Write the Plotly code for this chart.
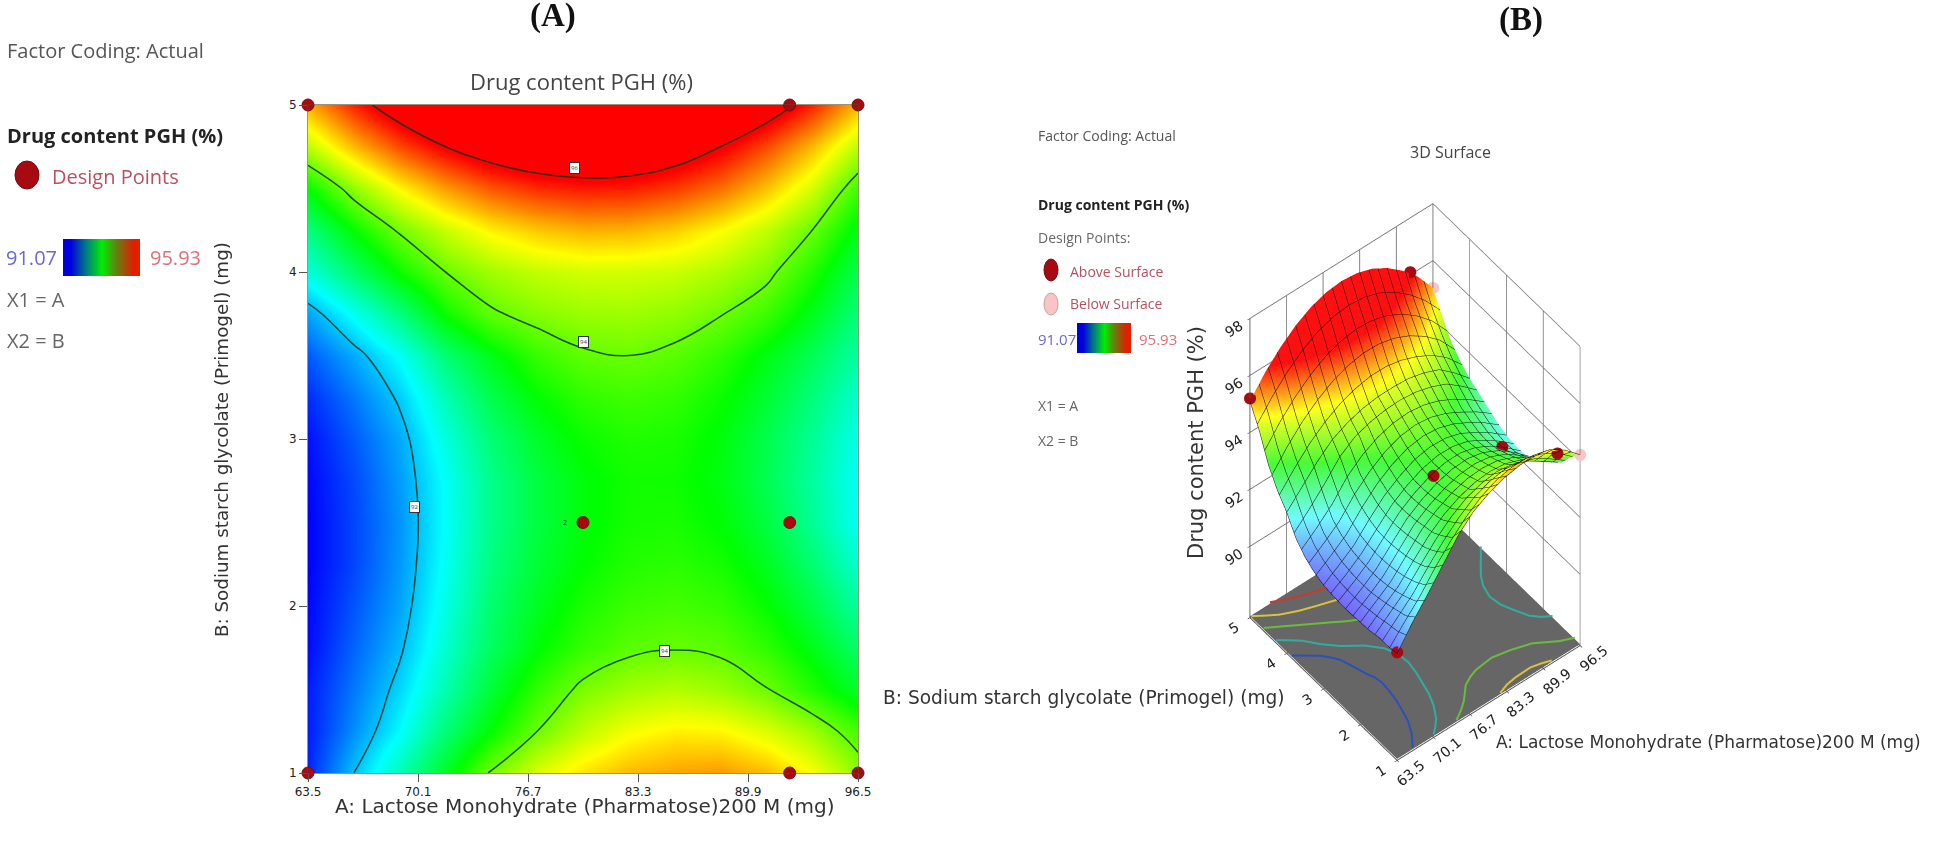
import plotly.graph_objects as go

W, H = 1958, 854
lactose = [63.5, 66.25, 69.0, 71.75, 74.5, 77.25, 80.0, 82.75, 85.5, 88.25, 91.0, 93.75, 96.5]
primogel = [1, 1.25, 1.5, 1.75, 2, 2.25, 2.5, 2.75, 3, 3.25, 3.5, 3.75, 4, 4.25, 4.5, 4.75, 5]
drug = [
 [91.25,92.0,92.65,93.35,94.05,94.55,94.85,95.05,95.15,95.2,95.05,94.7,94.2],
 [91.2,91.75,92.28,92.95,93.5,94.0,94.4,94.66,94.78,94.75,94.55,94.25,93.8],
 [91.2,91.65,92.1,92.68,93.25,93.72,94.08,94.27,94.35,94.25,94.02,93.65,93.3],
 [91.12,91.55,91.95,92.52,93.05,93.47,93.75,93.92,93.98,93.92,93.72,93.4,93.0],
 [91.1,91.47,91.85,92.42,92.98,93.35,93.62,93.78,93.82,93.75,93.52,93.17,92.75],
 [91.07,91.4,91.8,92.35,92.9,93.25,93.5,93.66,93.7,93.6,93.35,92.97,92.5],
 [91.07,91.4,91.78,92.32,92.85,93.2,93.45,93.6,93.62,93.48,93.2,92.8,92.33],
 [91.1,91.42,91.82,92.33,92.85,93.2,93.45,93.58,93.57,93.42,93.12,92.75,92.32],
 [91.15,91.5,91.88,92.45,92.95,93.3,93.55,93.65,93.62,93.45,93.15,92.8,92.38],
 [91.28,91.65,92.05,92.65,93.15,93.5,93.72,93.8,93.74,93.55,93.27,92.93,92.52],
 [91.5,91.88,92.32,92.95,93.4,93.75,93.95,94.0,93.92,93.72,93.42,93.1,92.72],
 [91.85,92.35,92.9,93.55,93.95,94.13,94.23,94.25,94.18,94.02,93.78,93.38,92.92],
 [92.45,93.0,93.55,94.0,94.26,94.42,94.5,94.5,94.46,94.32,94.1,93.65,93.12],
 [92.9,93.52,94.05,94.46,94.78,94.98,95.09,95.08,94.95,94.72,94.42,94.0,93.4],
 [93.5,94.18,94.74,95.18,95.51,95.72,95.81,95.79,95.65,95.39,95.0,94.5,93.78],
 [94.4,95.04,95.58,96.0,96.31,96.49,96.55,96.49,96.31,96.0,95.58,95.04,94.38],
 [95.1,95.78,96.32,96.75,97.06,97.24,97.3,97.24,97.06,96.75,96.32,95.78,95.05],
]
x_ticks = [63.5, 70.1, 76.7, 83.3, 89.9, 96.5]
y_ticks = [1, 2, 3, 4, 5]
z_ticks = [90, 92, 94, 96, 98]
design_a = [63.5, 92.4, 96.5, 63.5, 92.4, 96.5, 80.0, 92.4]
design_b = [5, 5, 5, 1, 1, 1, 2.5, 2.5]
above_a = [63.5, 63.5, 92.4, 92.4, 92.4, 80.0]
above_b = [1, 5, 5, 1, 2.5, 2.5]
above_z = [91.3, 95.2, 96.1, 94.75, 93.1, 93.6]
below_a = [96.5, 96.5]
below_b = [5, 1]
below_z = [95.05, 94.2]
floor_corner_a = [63.5, 96.5, 96.5, 63.5]
floor_corner_b = [1, 1, 5, 5]
floor_lines = {
 "#2b50b8": [[(63.5,3.86),(65,3.71),(66.6,3.55),(67.6,3.4),(68.3,3.27),(69,3.0),(69.6,2.75),(70.1,2.6),(70.3,2.45),(70.2,2.25),(69.9,2.0),(69.4,1.75),(68.8,1.5),(67.8,1.25),(66.3,1.0)]],
 "#2fae9f": [[(63.5,4.29),(64.9,4.15),(66.3,4.0),(67.9,3.75),(69.9,3.5),(72.6,3.25),(74.4,3.0),(75.3,2.75),(75.5,2.5),(75.2,2.25),(74.7,2.0),(74.2,1.75),(73.4,1.5),(72.2,1.25),(71.2,1.12),(70.1,1.0)],
             [(96.5,3.7),(95.4,3.53),(94.5,3.4),(93.2,3.2),(92.3,3.0),(91.8,2.75),(92.1,2.5),(93.0,2.25),(94.0,2.0),(95.2,1.85),(96.5,1.75)]],
 "#6dbb3c": [[(63.5,4.63),(66.2,4.42),(68.9,4.21),(71.6,4.0),(73.2,3.87),(75,3.75),(77.5,3.6),(80,3.52),(82,3.5),(84.5,3.55),(86.8,3.65),(88.6,3.75),(90.4,3.87),(91.9,4.0),(94.2,4.3),(96.5,4.61)],
             [(74.2,1.0),(75.8,1.12),(77.2,1.25),(79.2,1.5),(80.6,1.59),(82.0,1.65),(85.1,1.69),(88.0,1.62),(91.2,1.5),(94.4,1.25),(96.5,1.14)]],
 "#d8c23c": [[(63.5,4.96),(65,4.83),(66.7,4.69),(69.2,4.55),(71.8,4.44),(75.9,4.28),(78.8,4.23),(81.6,4.21),(85,4.26),(88.3,4.36),(90.8,4.5),(93.2,4.7),(96.5,4.98)],
             [(82.1,1.0),(83.8,1.07),(85.5,1.1),(88.3,1.11),(90,1.06),(91.4,1.0)]],
 "#c83a2e": [[(67.1,5.0),(69.5,4.86),(71.8,4.75),(75.9,4.62),(80.0,4.57),(84.1,4.62),(88.3,4.74),(90.4,4.86),(92.2,5.0)]],
}
colors_flat = [[0,"#0000ff"],[0.25,"#00ffff"],[0.5,"#00ff00"],[0.75,"#ffff00"],[1,"#ff0000"]]
colors_3d = [[0,"#7468ff"],[0.25,"#70fbff"],[0.5,"#48fa38"],[0.75,"#ffff20"],[1,"#ff1010"]]
bar_vals = [[0, 0.25, 0.5, 0.75, 1]]
bar_scale = [[0,"#0000e0"],[0.25,"#007f80"],[0.5,"#00ee00"],[0.75,"#6a7a10"],[1,"#e02000"]]

def X(p): return p / W
def Y(p): return 1 - p / H

fig = go.Figure()
fig.add_trace(go.Heatmap(x=lactose, y=primogel, z=drug, zmin=91.07, zmax=95.93, colorscale=colors_flat,
                         zsmooth="best", showscale=False, xaxis="x", yaxis="y"))
fig.add_trace(go.Contour(x=lactose, y=primogel, z=drug, showscale=False, xaxis="x", yaxis="y",
                         contours=dict(coloring="none", start=92, end=96, size=2),
                         line=dict(color="rgba(15,55,25,0.85)", width=1.6, smoothing=1.3)))
fig.add_trace(go.Scatter(x=design_a, y=design_b, mode="markers", xaxis="x", yaxis="y", cliponaxis=False,
                         marker=dict(size=12, color="#a80a12", line=dict(color="#6e1010", width=1))))
# colour keys
fig.add_trace(go.Heatmap(z=bar_vals, colorscale=bar_scale, zsmooth="best", showscale=False, xaxis="x2", yaxis="y2"))
fig.add_trace(go.Heatmap(z=bar_vals, colorscale=bar_scale, zsmooth="best", showscale=False, xaxis="x3", yaxis="y3"))
# 3D
fig.add_trace(go.Mesh3d(x=floor_corner_a, y=floor_corner_b, z=[87.55]*4, i=[0, 0], j=[1, 2], k=[2, 3],
                        color="#666666", hoverinfo="skip", flatshading=True,
                        lighting=dict(ambient=1, diffuse=0, specular=0, roughness=1), scene="scene"))
for col, lines in floor_lines.items():
    for ln in lines:
        fig.add_trace(go.Scatter3d(x=[p[0] for p in ln], y=[p[1] for p in ln], z=[87.6]*len(ln), mode="lines",
                                   line=dict(color=col, width=4), showlegend=False, scene="scene"))
fig.add_trace(go.Surface(x=lactose, y=primogel, z=drug, cmin=91.07, cmax=95.93, colorscale=colors_3d, showscale=False,
                         lighting=dict(ambient=1.0, diffuse=0.04, specular=0.0, roughness=0.9),
                         contours=dict(x=dict(show=True, start=63.5, end=96.5, size=1.65, color="#111111", width=1),
                                       y=dict(show=True, start=1, end=5, size=0.2, color="#111111", width=1)),
                         scene="scene"))
fig.add_trace(go.Scatter3d(x=above_a, y=above_b, z=above_z, mode="markers", scene="scene", showlegend=False,
                           marker=dict(size=7, color="#a80a12")))
fig.add_trace(go.Scatter3d(x=below_a, y=below_b, z=below_z, mode="markers", scene="scene", showlegend=False,
                           marker=dict(size=7, color="#f9c4c8")))

anns = []
def txt(s, x, y, size=19, color="#555555", font="Open Sans", anchor="left", bold=False, angle=0):
    anns.append(dict(text=("<b>%s</b>" % s) if bold else s, x=X(x), y=Y(y), xref="paper", yref="paper", showarrow=False,
                     xanchor=anchor, yanchor="middle", textangle=angle, font=dict(size=size, color=color, family=font)))
txt("(A)", 553, 15, 33, "#111111", "Liberation Serif", "center", True)
txt("(B)", 1521, 19, 33, "#111111", "Liberation Serif", "center", True)
txt("Factor Coding: Actual", 5, 51, 20)
txt("Drug content PGH (%)", 5, 135, 20, "#222222", bold=True)
txt("Design Points", 50, 176, 20, "#b8505f")
txt("91.07", 4, 257, 20, "#6a6ad0")
txt("95.93", 148, 257, 20, "#e07078")
txt("X1 = A", 5, 300, 20, "#666666")
txt("X2 = B", 5, 340, 20, "#666666")
txt("Drug content PGH (%)", 581, 81, 22, "#444444", anchor="center")
txt("A: Lactose Monohydrate (Pharmatose)200 M (mg)", 585, 806, 20, "#333333", "DejaVu Sans", "center")
txt("B: Sodium starch glycolate (Primogel) (mg)", 221, 440, 18.3, "#333333", "DejaVu Sans", "center", angle=-90)
for s, a, b in [("96", 79.5, 4.62), ("94", 80.0, 3.58), ("92", 69.9, 2.59), ("94", 84.9, 1.73)]:
    anns.append(dict(text=s, x=a, y=b, xref="x", yref="y", showarrow=False, bgcolor="white", borderpad=1,
                     bordercolor="#333333", borderwidth=1, font=dict(size=6, color="#444444")))
anns.append(dict(text="2", x=78.9, y=2.5, xref="x", yref="y", showarrow=False, font=dict(size=7, color="#333333")))
txt("Factor Coding: Actual", 1036, 136, 14)
txt("3D Surface", 1450, 152, 16, "#444444", anchor="center")
txt("Drug content PGH (%)", 1036, 205, 14, "#222222", bold=True)
txt("Design Points:", 1036, 238, 14, "#666666")
txt("Above Surface", 1068, 271, 14, "#b8505f")
txt("Below Surface", 1068, 304, 14, "#b8505f")
txt("91.07", 1036, 339, 15, "#6a6ad0")
txt("95.93", 1137, 339, 15, "#e07078")
txt("X1 = A", 1036, 405, 14, "#666666")
txt("X2 = B", 1036, 440, 14, "#666666")
txt("Drug content PGH (%)", 1196, 443, 21, "#333333", "DejaVu Sans", "center", angle=-90)
txt("B: Sodium starch glycolate (Primogel) (mg)", 1084, 697, 18.6, "#333333", "DejaVu Sans", "center")
txt("A: Lactose Monohydrate (Pharmatose)200 M (mg)", 1708, 742, 17, "#333333", "DejaVu Sans", "center")

def dot(cx, cy, rx, ry, fill, line):
    return dict(type="circle", xref="paper", yref="paper", x0=X(cx-rx), x1=X(cx+rx), y0=Y(cy+ry), y1=Y(cy-ry),
                fillcolor=fill, line=dict(color=line, width=1))

hidden = dict(visible=False, showgrid=False, zeroline=False)
axis3 = dict(showbackground=False, gridcolor="#707070", gridwidth=2, showline=True, linecolor="#555555", linewidth=2,
             zeroline=False, title=dict(text=""), showspikes=False, tickfont=dict(size=13, color="#222222", family="DejaVu Sans"),
             ticks="outside", ticklen=3, tickcolor="#111111")
fig.update_layout(
    width=W, height=H, margin=dict(l=0, r=0, t=0, b=0), paper_bgcolor="white", plot_bgcolor="white", showlegend=False,
    xaxis=dict(domain=[X(308), X(858)], anchor="y", range=[63.5, 96.5], tickvals=x_ticks, ticktext=[str(v) for v in x_ticks],
               ticks="outside", ticklen=8, tickcolor="#555555", showgrid=False, zeroline=False, showline=True, mirror=True,
               linecolor="rgba(100,70,20,0.6)", linewidth=1, automargin=False,
               tickfont=dict(size=12, color="#222222", family="DejaVu Sans")),
    yaxis=dict(domain=[Y(773), Y(105)], anchor="x", range=[1, 5], tickvals=y_ticks, ticks="outside", ticklen=8, tickcolor="#555555",
               showgrid=False, zeroline=False, showline=True, mirror=True, linecolor="rgba(100,70,20,0.6)", linewidth=1,
               automargin=False, tickfont=dict(size=12, color="#222222", family="DejaVu Sans")),
    xaxis2=dict(domain=[X(63), X(140)], anchor="y2", **hidden),
    yaxis2=dict(domain=[Y(276), Y(239)], anchor="x2", **hidden),
    xaxis3=dict(domain=[X(1077), X(1131)], anchor="y3", **hidden),
    yaxis3=dict(domain=[Y(353), Y(323)], anchor="x3", **hidden),
    scene=dict(domain=dict(x=[X(1415-540), X(1415+540)], y=[0, 1]),
               aspectmode="manual", aspectratio=dict(x=0.55, y=0.55, z=1.12),
               camera=dict(eye=dict(x=-3.12, y=-3.88, z=6.416), center=dict(x=0, y=0, z=0.206), up=dict(x=0, y=0, z=1),
                           projection=dict(type="orthographic")),
               xaxis=dict(range=[63.5, 96.5], tickvals=x_ticks, tickangle=-40, **axis3),
               yaxis=dict(range=[1, 5], tickvals=y_ticks, **axis3),
               zaxis=dict(range=[87.5, 98], tickvals=z_ticks, **axis3)),
    annotations=anns,
    shapes=[dot(27, 175, 12, 14, "#a80a12", "#6e1010"), dot(1051, 270, 7, 11, "#a80a12", "#6e1010"),
            dot(1051, 304, 7, 11, "#f9c4c8", "#c9a0a0")],
)
fig.write_html("out.html", config=dict(displayModeBar=False), post_script="document.body.style.margin='0';")
